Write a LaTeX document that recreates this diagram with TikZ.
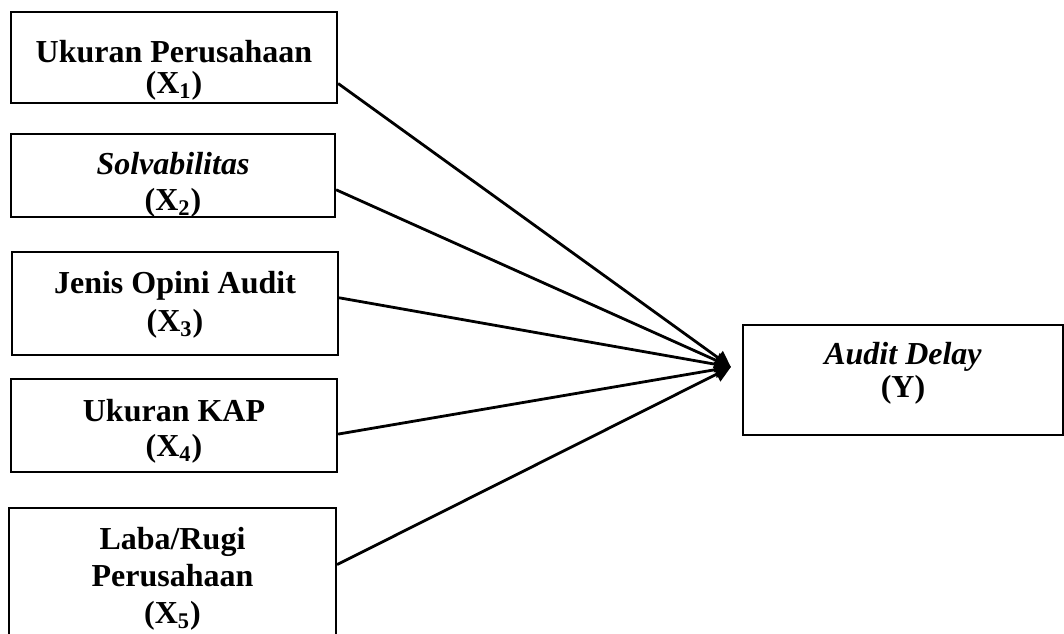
\documentclass[tikz,border=0pt]{standalone}
\usepackage{fontspec}
\setmainfont{Liberation Serif}
\usepackage{tikz}
\usetikzlibrary{positioning,arrows.meta,calc}
\tikzstyle{box} = [draw=black, line width=1.1pt, minimum width=163pt, inner sep=0pt]
\tikzstyle{arrow} = [line width=1.4pt,-{Triangle[length=8pt,width=8pt]}]

\begin{document}
\begin{tikzpicture}[x=0.5pt,y=-0.5pt,
	txt/.style = {
		font=\bfseries\fontsize{16}{#1}\selectfont,
		align=center, anchor=north, inner sep=0pt,
	},
	]
	\useasboundingbox (0,0) rectangle (1064,633);
	\clip (0,0) rectangle (1064,633);
	% variabel independen
	\node[box,minimum height=45.5pt] (x1) at (174,57.5) {};
	\node[box,minimum height=41.5pt,minimum width=162pt] (x2) at (173,175.5) {};
	\node[box,minimum height=51.5pt] (x3) at (175,303.5) {};
	\node[box,minimum height=46.5pt] (x4) at (174,425.5) {};
	\node[box,minimum height=71pt,minimum width=163.5pt] (x5) at (172.5,579) {};
	\node[txt=15.5pt] (t1) at (x1 |- 0,39.5) {Ukuran Perusahaan\\(X\textsubscript{1})};
	\node[txt=18pt] (t2) at (x2 |- 0,151.5) {\itshape Solvabilitas\\(X\textsubscript{2})};
	\node[txt=19pt] (t3) at (x3 |- 0,270.5) {Jenis Opini Audit\\(X\textsubscript{3})};
	\node[txt=17.5pt] (t4) at (x4 |- 0,398.5) {Ukuran KAP\\(X\textsubscript{4})};
	\node[txt=18.5pt] (t5) at (x5 |- 0,526.5) {Laba/Rugi\\Perusahaan\\(X\textsubscript{5})};
	% variabel dependen
	\node[box,minimum height=55pt,minimum width=160pt] (y) at (903,380) {};
	\node[txt=16.5pt] (ty) at (y |- 0,341.5) {\itshape Audit Delay\\(Y)};
	\coordinate (tip) at ($(y.west)+(-11,-13)$);
	\draw[arrow] (x1.-9) -- (tip);
	\draw[arrow] (x2.-5) -- (tip);
	\draw[arrow] (x3.2) -- (tip);
	\draw[arrow] (x4.-3) -- (tip);
	\draw[arrow] (x5.5) -- (tip);
\end{tikzpicture}
\end{document}
